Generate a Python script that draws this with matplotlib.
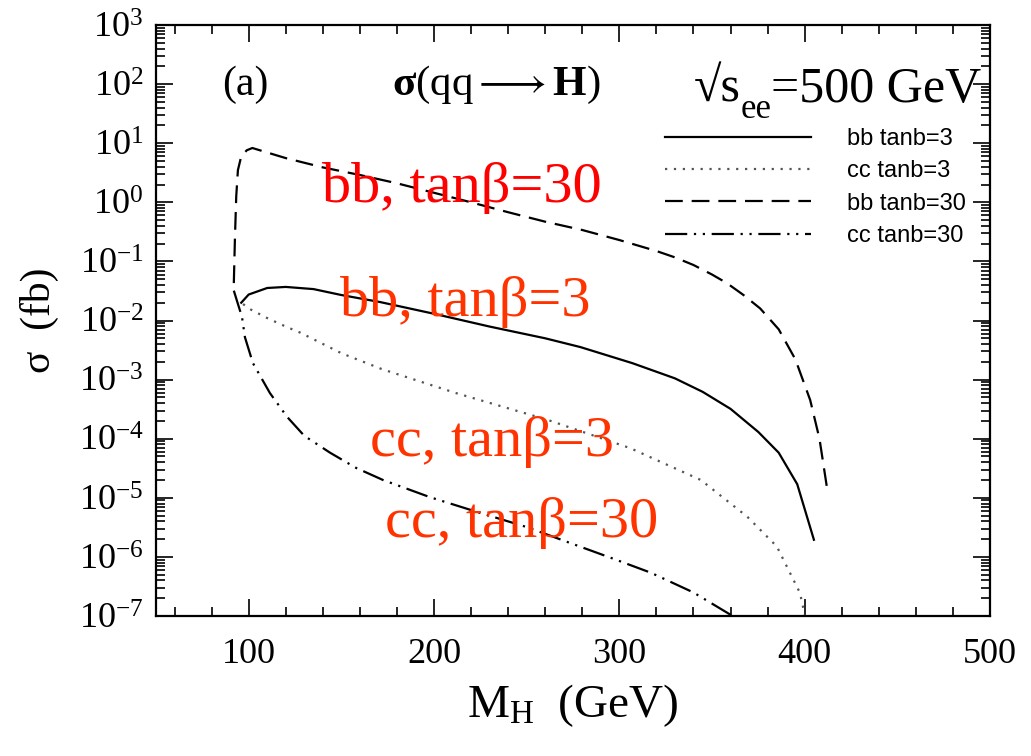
import numpy as np
import matplotlib
matplotlib.use("Agg")
import matplotlib.pyplot as plt
from matplotlib.ticker import MultipleLocator, LogLocator, LogFormatterSciNotation

# ---- fonts ----
plt.rcParams['font.family'] = ['Liberation Serif', 'DejaVu Serif']
plt.rcParams['mathtext.fontset'] = 'custom'
plt.rcParams['mathtext.rm'] = 'Liberation Serif'
plt.rcParams['mathtext.it'] = 'Liberation Serif:italic'
plt.rcParams['mathtext.bf'] = 'Liberation Serif:bold'

# ---- data (M_H in GeV, sigma in fb) ----
mh_bb3 = [96, 100, 110, 120, 135, 150, 171, 200, 230, 260, 279, 307, 330, 345, 360, 375, 386, 396, 405]
sig_bb3 = [2.0e-2, 2.75e-2, 3.55e-2, 3.7e-2, 3.4e-2, 2.7e-2, 2.05e-2, 1.3e-2, 7.9e-3, 5.0e-3,
           3.55e-3, 1.9e-3, 1.05e-3, 6.2e-4, 3.2e-4, 1.3e-4, 5.8e-5, 1.7e-5, 1.95e-6]

mh_cc3 = [97, 100, 110, 120, 128, 150, 172, 212, 261, 306, 344, 369, 385, 397.5, 400.5]
sig_cc3 = [1.9e-2, 1.6e-2, 1.1e-2, 7.9e-3, 6.2e-3, 2.8e-3, 1.5e-3, 5.9e-4, 2.1e-4, 6.9e-5,
           2.0e-5, 4.8e-6, 1.5e-6, 2.45e-7, 8.9e-8]

mh_bb30 = [92, 92.6, 93.3, 94.2, 96, 99, 102, 106, 120, 140, 160, 180, 200, 220, 240, 260,
           280, 300, 320, 330, 340, 350, 358, 367, 376, 386, 395, 403, 408, 412.5]
sig_bb30 = [0.043, 0.25, 1.26, 3.5, 6.0, 7.6, 8.3, 7.6, 5.6, 3.9, 2.9, 2.1, 1.45, 1.0, 0.68, 0.47,
            0.34, 0.23, 0.15, 0.117, 0.087, 0.060, 0.043, 0.027, 1.6e-2, 7.1e-3, 2.2e-3, 4.5e-4,
            1.0e-4, 1.2e-5]

mh_cc30 = [92, 94, 96.4, 98, 102.3, 111.5, 120.7, 130, 143.9, 158, 172.5, 198, 223, 250, 273,
           296, 317, 340, 360, 362]
sig_cc30 = [3.2e-2, 2.0e-2, 1.15e-2, 5.2e-3, 1.9e-3, 5.9e-4, 2.35e-4, 1.12e-4, 5.8e-5, 3.2e-5,
            2.0e-5, 1.02e-5, 5.8e-6, 3.2e-6, 1.74e-6, 9.5e-7, 5.4e-7, 2.5e-7, 1.05e-7, 8.9e-8]

legend_labels = ["bb tanb=3", "cc tanb=3", "bb tanb=30", "cc tanb=30"]

# red labels on the curves: text, M_H position, sigma baseline
curve_labels = ["bb, tanβ=30", "bb, tanβ=3", "cc, tanβ=3", "cc, tanβ=30"]
curve_label_x = [139.6, 149.3, 165.5, 173.6]
curve_label_y = [1.0, 1.2e-2, 5.1e-5, 2.2e-6]
curve_label_colors = ["#ff0000", "#ff3300", "#ff3300", "#ff3300"]

# ---- figure ----
fig = plt.figure(figsize=(10.31, 7.56), dpi=100)
ax = fig.add_axes([0.1513, 0.1852, 0.8089, 0.7817])

lw = 1.6
ax.plot(mh_bb3, sig_bb3, color="black", lw=lw, label=legend_labels[0])
ax.plot(mh_cc3, sig_cc3, color="#555555", lw=lw, dashes=(1, 3), label=legend_labels[1])
ax.plot(mh_bb30, sig_bb30, color="black", lw=lw, dashes=(8, 4), label=legend_labels[2])
ax.plot(mh_cc30, sig_cc30, color="black", lw=lw, dashes=(10, 3, 1, 3, 1, 3), label=legend_labels[3])

ax.set_yscale("log")
ax.set_xlim(50, 500)
ax.set_ylim(1e-7, 1e3)

ax.xaxis.set_major_locator(MultipleLocator(100))
ax.xaxis.set_minor_locator(MultipleLocator(20))
ax.yaxis.set_major_locator(LogLocator(base=10, numticks=30))
ax.yaxis.set_minor_locator(LogLocator(base=10, subs=np.arange(2, 10), numticks=200))
ax.yaxis.set_major_formatter(LogFormatterSciNotation())

ax.tick_params(which="both", direction="in", top=True, right=True, width=1.2)
ax.tick_params(which="major", length=12)
ax.tick_params(which="minor", length=6.5)
ax.tick_params(axis="y", labelsize=26, pad=9)
ax.tick_params(axis="x", labelsize=26, pad=16)
for s in ax.spines.values():
    s.set_linewidth(1.6)

ax.set_xlabel(r"M$_{\rm H}$  (GeV)", fontsize=34, labelpad=8)
ax.set_ylabel("σ  (fb)", fontsize=30, labelpad=14)

# header texts
ax.text(0.079, 0.882, "(a)", transform=ax.transAxes, fontsize=30, va="baseline")
ax.text(0.283, 0.882, r"$\mathbf{σ}$(qq$\longrightarrow$$\mathbf{H}$)", transform=ax.transAxes,
        fontsize=31, va="baseline")

t_main = ax.text(0.99, 0.870, "=500 GeV", transform=ax.transAxes, fontsize=36,
                 va="baseline", ha="right")
t_sub = ax.annotate("ee", xy=(0, 0), xycoords=t_main, xytext=(0, -4),
                    textcoords="offset points", fontsize=25, ha="right", va="baseline")
ax.annotate("√s", xy=(0, 0), xycoords=(t_sub, t_main), fontsize=36,
            ha="right", va="bottom")

for txt, xx, yy, c in zip(curve_labels, curve_label_x, curve_label_y, curve_label_colors):
    ax.text(xx, yy, txt, color=c, fontsize=42, va="baseline")

leg = ax.legend(loc="upper left", bbox_to_anchor=(0.61, 0.826), frameon=False,
                borderpad=0, borderaxespad=0, handlelength=6.2, handletextpad=1.5,
                labelspacing=0.44, prop={"family": "Liberation Sans", "size": 17})

fig.savefig("out.png", dpi=100)
